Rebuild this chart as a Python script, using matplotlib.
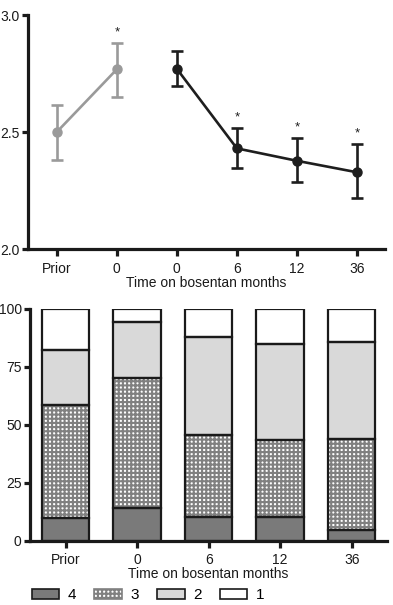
import matplotlib
matplotlib.use("Agg")
import matplotlib.pyplot as plt
from matplotlib.patches import Patch

plt.rcParams['font.family'] = ['Liberation Sans', 'DejaVu Sans']
plt.rcParams['hatch.linewidth'] = 1.5

# ---- top chart data ----
top_labels = ["Prior", "0", "0", "6", "12", "36"]
grey_means = [2.50, 2.768]
grey_low = [2.38, 2.65]
grey_high = [2.615, 2.88]
black_means = [2.77, 2.43, 2.377, 2.328]
black_low = [2.695, 2.345, 2.288, 2.22]
black_high = [2.846, 2.518, 2.473, 2.447]
grey_star = [False, True]
black_star = [False, True, True, True]

# ---- bottom chart data ----
bar_labels = ["Prior", "0", "6", "12", "36"]
class4 = [10.0, 14.0, 10.4, 10.4, 4.6]
class3 = [48.7, 56.0, 35.4, 33.0, 39.4]
class2 = [23.5, 24.5, 42.2, 41.4, 41.9]
class1 = [17.8, 5.5, 12.0, 15.2, 14.1]
legend_labels = ["4", "3", "2", "1"]

fig = plt.figure(figsize=(3.93, 6.05), dpi=100)
FS = 10
AXLW = 2.3

def style(ax):
    for s in ['top', 'right']:
        ax.spines[s].set_visible(False)
    for s in ['left', 'bottom']:
        ax.spines[s].set_linewidth(AXLW)
        ax.spines[s].set_color('#1a1a1a')
    ax.tick_params(axis='both', width=AXLW, length=4, color='#1a1a1a',
                   labelsize=FS, labelcolor='#1a1a1a', pad=2)

# ---------- top ----------
ax1 = fig.add_axes([0.0712, 0.5884, 0.9088, 0.3868])
gx = list(range(len(grey_means)))
bx = [i + len(grey_means) for i in range(len(black_means))]
gcol = '#9a9a9a'
bcol = '#1e1e1e'
ax1.errorbar(gx, grey_means,
             yerr=[[m - l for m, l in zip(grey_means, grey_low)],
                   [h - m for m, h in zip(grey_means, grey_high)]],
             color=gcol, lw=1.9, marker='o', ms=6.5, capsize=4, capthick=1.9,
             elinewidth=1.9)
ax1.errorbar(bx, black_means,
             yerr=[[m - l for m, l in zip(black_means, black_low)],
                   [h - m for m, h in zip(black_means, black_high)]],
             color=bcol, lw=1.9, marker='o', ms=6.5, capsize=4, capthick=1.9,
             elinewidth=1.9)
for x, h, s in zip(gx, grey_high, grey_star):
    if s:
        ax1.text(x, h + 0.02, '*', ha='center', va='bottom', fontsize=9.5, color=bcol)
for x, h, s in zip(bx, black_high, black_star):
    if s:
        ax1.text(x, h + 0.02, '*', ha='center', va='bottom', fontsize=9.5, color=bcol)
ax1.set_xlim(-0.48, 5.47)
ax1.set_ylim(2.0, 3.0)
ax1.set_yticks([2.0, 2.5, 3.0])
ax1.set_yticklabels(["2.0", "2.5", "3.0"])
ax1.set_xticks(range(len(top_labels)))
ax1.set_xticklabels(top_labels)
style(ax1)
ax1.tick_params(axis='x', length=5, pad=4)
ax1.set_xlabel("Time on bosentan months", fontsize=FS, color='#1a1a1a', labelpad=0)

# ---------- bottom ----------
ax2 = fig.add_axes([0.0763, 0.1063, 0.9077, 0.383])
x = range(len(bar_labels))
w = 0.665
bottoms = [0.0] * len(bar_labels)
series = [
    (class4, dict(color='#7a7a7a')),
    (class3, dict(color='white', hatch='++++', edgecolor='#808080')),
    (class2, dict(color='#d9d9d9')),
    (class1, dict(color='white')),
]
for vals, kw in series:
    ax2.bar(x, vals, w, bottom=bottoms, linewidth=0, zorder=2, **kw)
    ax2.bar(x, vals, w, bottom=bottoms, fill=False, edgecolor='#1a1a1a',
            linewidth=1.6, zorder=3)
    bottoms = [b + v for b, v in zip(bottoms, vals)]
ax2.set_xlim(-0.5, 4.49)
ax2.set_ylim(0, 100)
ax2.set_yticks([0, 25, 50, 75, 100])
ax2.set_xticks(list(x))
ax2.set_xticklabels(bar_labels)
style(ax2)
ax2.tick_params(axis='x', length=5, pad=4)
ax2.set_xlabel("Time on bosentan months", fontsize=FS, color='#1a1a1a', labelpad=0)

handles = [
    Patch(facecolor='#7a7a7a', edgecolor='#1a1a1a', linewidth=1.2),
    Patch(facecolor='white', edgecolor='#808080', hatch='++++', linewidth=1.2),
    Patch(facecolor='#d9d9d9', edgecolor='#1a1a1a', linewidth=1.2),
    Patch(facecolor='white', edgecolor='#1a1a1a', linewidth=1.2),
]
fig.legend(handles, legend_labels, ncol=4, loc='center left',
           bbox_to_anchor=(0.065, 0.016), frameon=False, fontsize=11,
           handlelength=1.8, handleheight=0.7, handletextpad=0.55,
           columnspacing=1.2, borderaxespad=0)

fig.savefig("out.png", dpi=100)
